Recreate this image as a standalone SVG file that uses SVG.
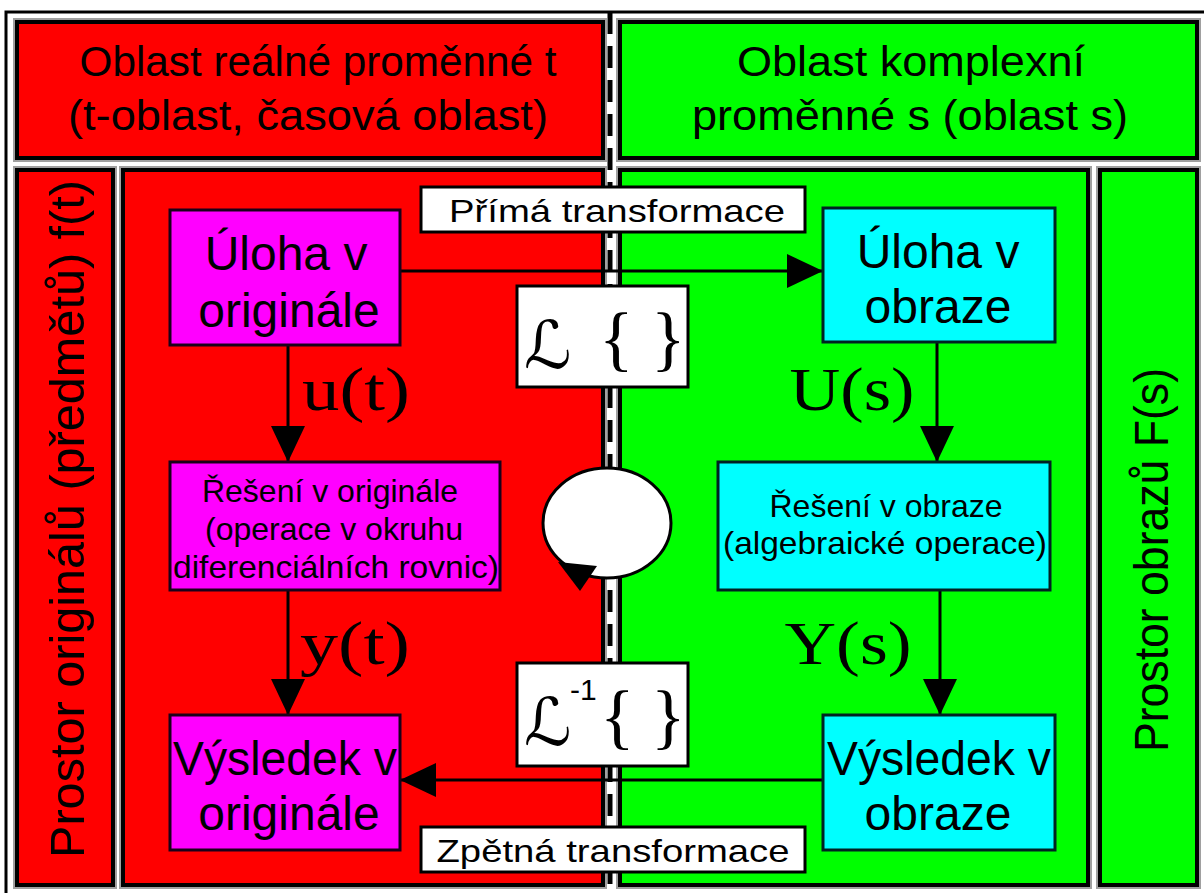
<svg xmlns="http://www.w3.org/2000/svg" width="1204" height="893" viewBox="0 0 1204 893">
  <style>
    .halo{fill:none;stroke:#a0a0a0;stroke-width:8}
    .red{fill:#ff0000;stroke:#000;stroke-width:4}
    .green{fill:#00ff00;stroke:#000;stroke-width:4}
    .mag{fill:#ff00ff;stroke:#1a001a;stroke-width:3}
    .cyan{fill:#00ffff;stroke:#002222;stroke-width:3}
    .lbl{fill:#fff;stroke:#000;stroke-width:3}
    .big{font-family:"Liberation Sans",Arial,sans-serif;font-size:43px;fill:#000;text-anchor:middle}
    .side{font-family:"Liberation Sans",Arial,sans-serif;font-size:49px;fill:#000;text-anchor:middle}
    .node{font-family:"Liberation Sans",Arial,sans-serif;font-size:48px;fill:#000;text-anchor:middle}
    .small{font-family:"Liberation Sans",Arial,sans-serif;font-size:32px;fill:#000;text-anchor:middle}
    .tr{font-family:"Liberation Sans",Arial,sans-serif;font-size:32px;fill:#000;text-anchor:middle}
    .math{font-family:"Liberation Serif","Times New Roman",serif;font-size:62px;fill:#000;text-anchor:middle}
    .scr{font-family:"DejaVu Serif","DejaVu Sans",serif;font-style:italic;font-size:66px;fill:#000}
    .brace{font-family:"Liberation Serif",serif;font-size:72px;fill:#000}
    .edge{stroke:#000;stroke-width:3;fill:none}
  </style>
  <defs>
    <marker id="ah" viewBox="0 0 36 34" refX="36" refY="17" markerWidth="36" markerHeight="34" markerUnits="userSpaceOnUse" orient="auto">
      <path d="M0,0 L36,17 L0,34 Z" fill="#000"/>
    </marker>
  </defs>
  <rect width="1204" height="893" fill="#fff"/>
  <!-- outer frame -->
  <rect x="6" y="12" width="1200" height="884" fill="none" stroke="#000" stroke-width="3"/>
  <!-- divider -->
  <g id="divider">
    <line x1="610" y1="12" x2="610" y2="893" stroke="#000" stroke-width="5" stroke-dasharray="22 12"/>
  </g>
  <g id="region-t">
    <rect class="halo" x="17" y="22" width="586" height="136"/>
    <rect class="red" x="17" y="22" width="586" height="136"/>
    <text class="big" x="318" y="76" textLength="477" lengthAdjust="spacingAndGlyphs">Oblast reálné proměnné t</text>
    <text class="big" x="308" y="130" textLength="480" lengthAdjust="spacingAndGlyphs">(t-oblast, časová oblast)</text>
  </g>
  <g id="region-s">
    <rect class="halo" x="620" y="22" width="577" height="136"/>
    <rect class="green" x="620" y="22" width="577" height="136"/>
    <text class="big" x="911" y="76" textLength="348" lengthAdjust="spacingAndGlyphs">Oblast komplexní</text>
    <text class="big" x="910" y="130" textLength="436" lengthAdjust="spacingAndGlyphs">proměnné s (oblast s)</text>
  </g>
  <g id="space-originals">
    <rect class="halo" x="17" y="170" width="96" height="715"/>
    <rect class="red" x="17" y="170" width="96" height="715"/>
    <text class="side" transform="translate(84,519) rotate(-90)" textLength="678" lengthAdjust="spacingAndGlyphs">Prostor originálů (předmětů) f(t)</text>
  </g>
  <g id="main-t">
    <rect class="halo" x="123" y="170" width="480" height="715"/>
    <rect class="red" x="123" y="170" width="480" height="715"/>
  </g>
  <g id="main-s">
    <rect class="halo" x="620" y="170" width="468" height="715"/>
    <rect class="green" x="620" y="170" width="468" height="715"/>
  </g>
  <g id="space-images">
    <rect class="halo" x="1100" y="170" width="97" height="715"/>
    <rect class="green" x="1100" y="170" width="97" height="715"/>
    <text class="side" transform="translate(1168,560) rotate(-90)" textLength="384" lengthAdjust="spacingAndGlyphs">Prostor obrazů F(s)</text>
  </g>

  <g id="connectors">
    <line class="edge" x1="400" y1="271" x2="823" y2="271" marker-end="url(#ah)"/>
    <line class="edge" x1="823" y1="780" x2="400" y2="780" marker-end="url(#ah)"/>
    <line class="edge" x1="288" y1="345" x2="288" y2="462" marker-end="url(#ah)"/>
    <line class="edge" x1="288" y1="590" x2="288" y2="715" marker-end="url(#ah)"/>
    <line class="edge" x1="937" y1="342" x2="937" y2="462" marker-end="url(#ah)"/>
    <line class="edge" x1="940" y1="590" x2="940" y2="715" marker-end="url(#ah)"/>
  </g>

  <g id="label-direct">
    <rect class="lbl" x="421" y="187" width="384" height="45"/>
    <text class="tr" x="617" y="222" textLength="336" lengthAdjust="spacingAndGlyphs">Přímá transformace</text>
  </g>
  <g id="label-inverse">
    <rect class="lbl" x="421" y="827" width="384" height="45"/>
    <text class="tr" x="613" y="862" textLength="353" lengthAdjust="spacingAndGlyphs">Zpětná transformace</text>
  </g>

  <g id="node-task-orig">
    <rect class="mag" x="170" y="210" width="230" height="135"/>
    <text class="node" x="286" y="270">Úloha v</text>
    <text class="node" x="289" y="327">originále</text>
  </g>
  <g id="node-task-img">
    <rect class="cyan" x="823" y="208" width="232" height="134"/>
    <text class="node" x="938" y="268">Úloha v</text>
    <text class="node" x="938" y="323">obraze</text>
  </g>
  <g id="node-sol-orig">
    <rect class="mag" x="170" y="462" width="330" height="128"/>
    <text class="small" x="330" y="502">Řešení v originále</text>
    <text class="small" x="334" y="540">(operace v okruhu</text>
    <text class="small" x="336" y="578" textLength="326" lengthAdjust="spacingAndGlyphs">diferenciálních rovnic)</text>
  </g>
  <g id="node-sol-img">
    <rect class="cyan" x="718" y="462" width="332" height="128"/>
    <text class="small" x="886" y="517">Řešení v obraze</text>
    <text class="small" x="885" y="554" textLength="324" lengthAdjust="spacingAndGlyphs">(algebraické operace)</text>
  </g>
  <g id="node-res-orig">
    <rect class="mag" x="170" y="715" width="230" height="135"/>
    <text class="node" x="285" y="775" textLength="224" lengthAdjust="spacingAndGlyphs">Výsledek v</text>
    <text class="node" x="289" y="830">originále</text>
  </g>
  <g id="node-res-img">
    <rect class="cyan" x="823" y="715" width="232" height="135"/>
    <text class="node" x="939" y="775" textLength="224" lengthAdjust="spacingAndGlyphs">Výsledek v</text>
    <text class="node" x="938" y="830">obraze</text>
  </g>

  <g id="edge-labels">
    <text class="math" x="356" y="410" textLength="108" lengthAdjust="spacingAndGlyphs">u(t)</text>
    <text class="math" x="852" y="410" textLength="125" lengthAdjust="spacingAndGlyphs">U(s)</text>
    <text class="math" x="355" y="664" textLength="110" lengthAdjust="spacingAndGlyphs">y(t)</text>
    <text class="math" x="848" y="664" textLength="127" lengthAdjust="spacingAndGlyphs">Y(s)</text>
  </g>

  <g id="laplace">
    <rect class="lbl" x="517" y="286" width="171" height="101"/>
    <text class="scr" x="524" y="368">ℒ</text>
    <text class="brace" x="599" y="362">{</text>
    <text class="brace" x="651" y="362">}</text>
  </g>
  <g id="laplace-inv">
    <rect class="lbl" x="517" y="663" width="171" height="103"/>
    <text class="scr" x="524" y="745">ℒ</text>
    <text style="font-family:'Liberation Sans',Arial,sans-serif;font-size:30px" x="570" y="700">-1</text>
    <text class="brace" x="600" y="740">{</text>
    <text class="brace" x="651" y="740">}</text>
  </g>

  <g id="cycle">
    <ellipse cx="607" cy="523" rx="64" ry="55" fill="#fff" stroke="#000" stroke-width="3"/>
    <polygon points="558,562 597,566 580,591" fill="#000"/>
  </g>
</svg>
